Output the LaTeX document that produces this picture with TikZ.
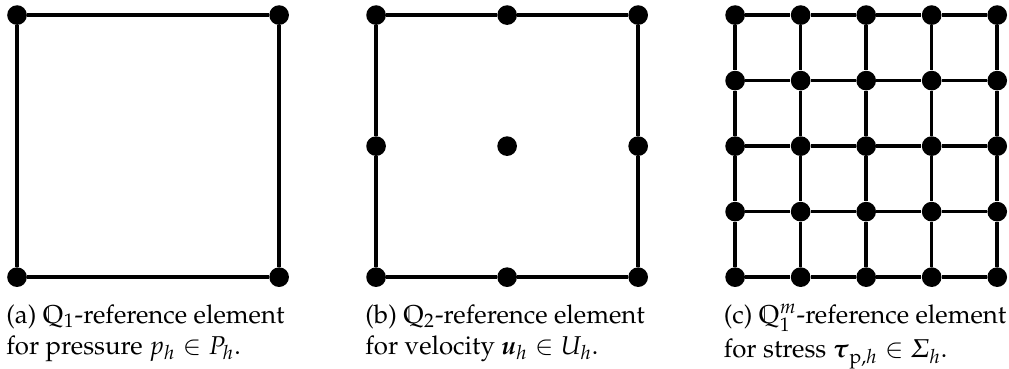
\documentclass[tikz,border=0pt]{standalone}
\usepackage[T1]{fontenc}
\usepackage{amsmath,amssymb}
\usepackage{mathpazo}
\usetikzlibrary{positioning}
\tikzset{
  vertex/.style={circle, fill=black, inner sep=0pt, minimum size=3mm},
  edge/.style={line width=1.5pt},
  subcap/.style={anchor=north west, align=left, inner sep=0pt,
                 font=\fontsize{11.2}{11.6}\selectfont},
}
\begin{document}
\begin{tikzpicture}
  \useasboundingbox (0,0.23) rectangle (15.4,-5.39);
  % (a) Q1 element: corner nodes only
  \foreach \i in {0,1}
    \foreach \j in {0,1}
      \node[vertex] (a-\i-\j) at (0.26+4*\i, -4*\j) {};
  \draw[edge] (a-0-0) -- (a-1-0) -- (a-1-1) -- (a-0-1) -- (a-0-0);
  % (b) Q2 element: 3x3 nodes
  \foreach \i in {0,1,2}
    \foreach \j in {0,1,2}
      \node[vertex] (b-\i-\j) at (5.74+2*\i, -2*\j) {};
  \draw[edge] (b-0-0) -- (b-1-0) -- (b-2-0) -- (b-2-1) -- (b-2-2)
    -- (b-1-2) -- (b-0-2) -- (b-0-1) -- (b-0-0);
  % (c) Q1^m element: 5x5 grid
  \foreach \i in {0,...,4}
    \foreach \j in {0,...,4}
      \node[vertex] (c-\i-\j) at (11.22+\i, -\j) {};
  \foreach \i [evaluate=\i as \n using int(\i+1)] in {0,...,3}
    \foreach \k in {0,...,4} {
      \draw[edge] (c-\i-\k) -- (c-\n-\k);
      \draw[edge] (c-\k-\i) -- (c-\k-\n);
    }
  % captions
  \node[subcap] (capa) at (0.09,-4.41)
    {(a) $\mathbb{Q}_1$-reference element\\[2pt]for pressure $p_h \in P_h$.};
  \node[subcap] (capb) at (5.57,-4.41)
    {(b) $\mathbb{Q}_2$-reference element\\[2pt]for velocity $\boldsymbol{u}_h \in U_h$.};
  \node[subcap] (capc) at (11.04,-4.41)
    {(c) $\mathbb{Q}_1^m$-reference element\\[2pt]for stress $\boldsymbol{\tau}_{\mathrm{p},h} \in \varSigma_h$.};
\end{tikzpicture}
\end{document}
